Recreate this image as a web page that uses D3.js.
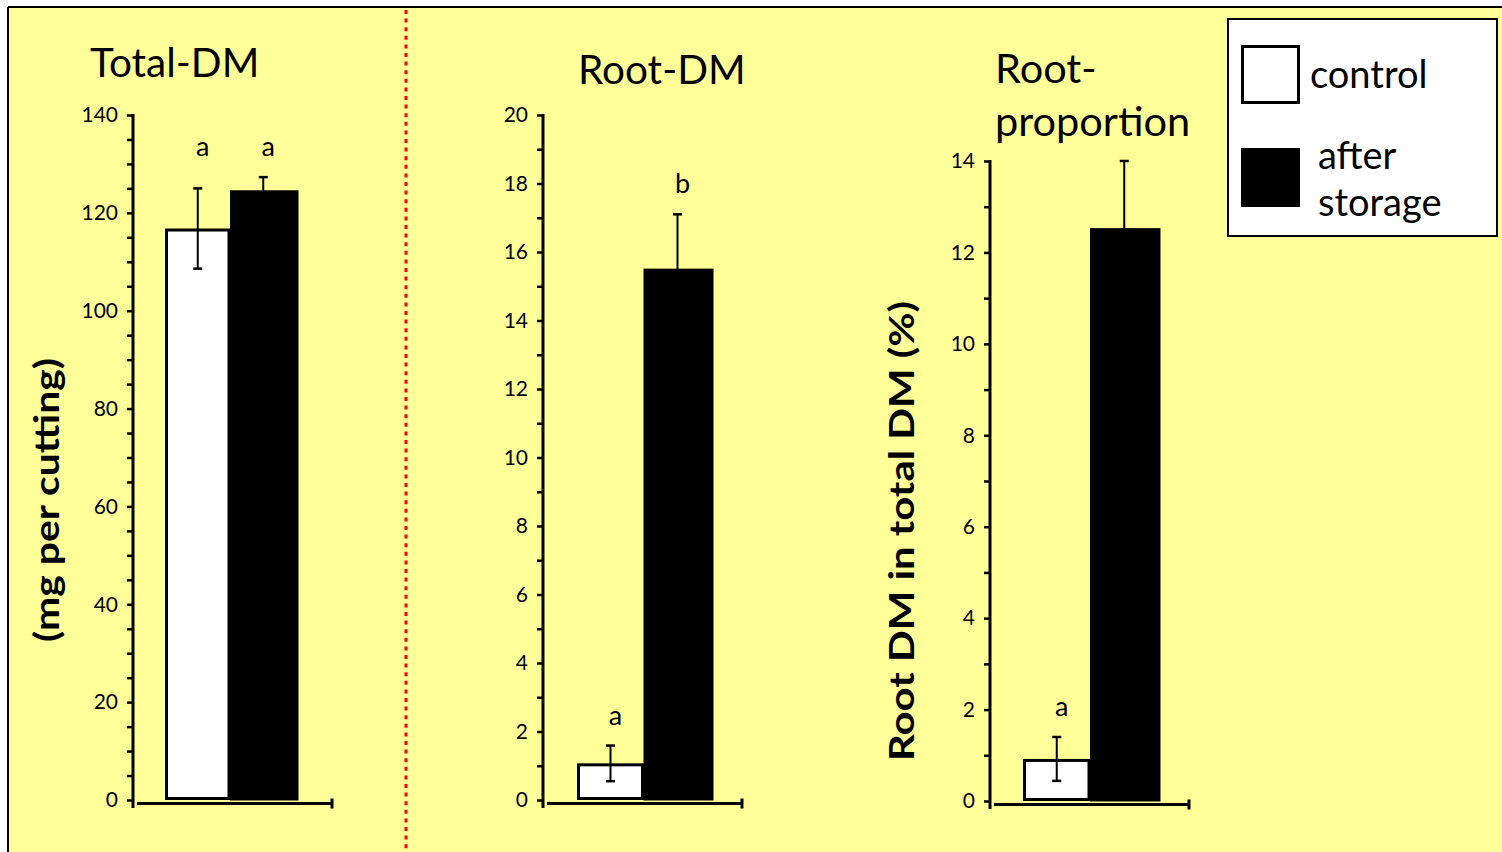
<!DOCTYPE html>
<html>
<head>
<meta charset="utf-8">
<script src="https://cdn.jsdelivr.net/npm/d3@7"></script>
<style>
  html, body { margin: 0; padding: 0; background: #ffffff; }
  svg { display: block; }
  text { font-family: Lato, "Open Sans", sans-serif; fill: #000; }
</style>
</head>
<body>
<svg id="chart" width="1502" height="852"></svg>
<script>
// Treatments
const groups = ["control", "after storage"];

// Total dry matter (mg per cutting)
const totalDM = [116.8, 124.5];
const totalDMErr = [8.2, 2.8];
const totalDMLetters = ["a", "a"];
const totalDMTicks = [0, 20, 40, 60, 80, 100, 120, 140];

// Root dry matter (mg per cutting)
const rootDM = [1.07, 15.5];
const rootDMErr = [0.52, 1.6];
const rootDMLetters = ["a", "b"];
const rootDMTicks = [0, 2, 4, 6, 8, 10, 12, 14, 16, 18, 20];

// Root proportion of total dry matter (%)
const rootProp = [0.92, 12.52];
const rootPropErr = [0.48, 1.48];
const rootPropLetters = ["a", ""];
const rootPropTicks = [0, 2, 4, 6, 8, 10, 12, 14];

const fills = ["#ffffff", "#000000"];

const svg = d3.select("#chart");

// page background and frame
svg.append("rect").attr("x", 8).attr("y", 7).attr("width", 1494).attr("height", 845)
  .attr("fill", "#ffff99");
svg.append("line").attr("x1", 8).attr("x2", 1502).attr("y1", 7).attr("y2", 7)
  .attr("stroke", "#000").attr("stroke-width", 2);
svg.append("line").attr("x1", 8).attr("x2", 8).attr("y1", 7).attr("y2", 852)
  .attr("stroke", "#000").attr("stroke-width", 2);

// dotted separator between the total and root panels
svg.append("line").attr("x1", 406).attr("x2", 406).attr("y1", 10).attr("y2", 852)
  .attr("stroke", "#ff0000").attr("stroke-width", 3).attr("stroke-dasharray", "4,4.6");

function drawPanel(cfg) {
  const g = svg.append("g");
  const y = d3.scaleLinear().domain([0, cfg.max]).range([cfg.y0, cfg.yTop]);
  const x = d3.scaleBand().domain(groups)
    .range([cfg.axisX + cfg.barStart, cfg.axisX + cfg.barEnd]).padding(0);

  // y axis: labelled major ticks plus unlabelled minor ticks
  const minor = d3.range(0, cfg.max + 1e-9, cfg.minorStep);
  const axis = d3.axisLeft(y).tickValues(minor).tickSize(6).tickPadding(9)
    .tickFormat(d => cfg.ticks.includes(Math.round(d * 1000) / 1000) ? d3.format("d")(d) : "");
  const ax = g.append("g").attr("transform", `translate(${cfg.axisX},0)`).call(axis);
  ax.select(".domain").remove();
  ax.selectAll(".tick line").attr("stroke", "#000").attr("stroke-width", 2.5);
  ax.selectAll(".tick text").attr("font-size", 21).attr("font-family", "Lato, sans-serif");
  g.append("line").attr("x1", cfg.axisX).attr("x2", cfg.axisX)
    .attr("y1", cfg.yTop - 1).attr("y2", cfg.y0 + 8)
    .attr("stroke", "#000").attr("stroke-width", 3);

  // bars
  const vals = cfg.values;
  g.selectAll("rect.bar").data(groups).join("rect").attr("class", "bar")
    .attr("x", (d, i) => x(d) + (i === 0 ? 1.5 : 0))
    .attr("width", (d, i) => x.bandwidth() - (i === 0 ? 3 : 0) + (i === 1 ? 2 : 0))
    .attr("y", (d, i) => y(vals[i]) + (i === 0 ? 1.5 : 0))
    .attr("height", (d, i) => y(0) - y(vals[i]) - (i === 0 ? 3 : 0))
    .attr("fill", (d, i) => fills[i])
    .attr("stroke", "#000").attr("stroke-width", (d, i) => i === 0 ? 3 : 1);

  // error bars
  groups.forEach((d, i) => {
    const cx = x(d) + x.bandwidth() / 2;
    const hi = y(vals[i] + cfg.errs[i]);
    const lo = y(vals[i] - cfg.errs[i]);
    g.append("line").attr("x1", cx).attr("x2", cx).attr("y1", hi).attr("y2", lo)
      .attr("stroke", "#000").attr("stroke-width", 2);
    [hi, lo].forEach(v => g.append("line").attr("x1", cx - 4.5).attr("x2", cx + 4.5)
      .attr("y1", v).attr("y2", v).attr("stroke", "#000").attr("stroke-width", 2.5));
  });

  // significance letters, set slightly right of each bar centre
  const tops = groups.map((d, i) => y(vals[i] + cfg.errs[i]));
  groups.forEach((d, i) => {
    if (!cfg.letters[i]) return;
    const base = (cfg.alignLetters ? d3.min(tops) : tops[i]) - 21;
    g.append("text").attr("x", x(d) + x.bandwidth() / 2 + 5).attr("y", base)
      .attr("text-anchor", "middle").attr("font-size", 27).text(cfg.letters[i]);
  });

  // x axis baseline with end tick
  const xa = cfg.y0 + 3.5;
  g.append("line").attr("x1", cfg.axisX + 4).attr("x2", cfg.axisX + 200)
    .attr("y1", xa).attr("y2", xa).attr("stroke", "#000").attr("stroke-width", 3);
  g.append("line").attr("x1", cfg.axisX + 199).attr("x2", cfg.axisX + 199)
    .attr("y1", xa - 5).attr("y2", xa + 5).attr("stroke", "#000").attr("stroke-width", 3);
}

drawPanel({ axisX: 133, y0: 800, yTop: 115, max: 140, minorStep: 5, ticks: totalDMTicks,
  barStart: 32, barEnd: 163,
  values: totalDM, errs: totalDMErr, letters: totalDMLetters, alignLetters: true });
drawPanel({ axisX: 543, y0: 800, yTop: 115, max: 20, minorStep: 1, ticks: rootDMTicks,
  barStart: 34, barEnd: 168,
  values: rootDM, errs: rootDMErr, letters: rootDMLetters });
drawPanel({ axisX: 990, y0: 801, yTop: 161, max: 14, minorStep: 1, ticks: rootPropTicks,
  barStart: 33, barEnd: 168,
  values: rootProp, errs: rootPropErr, letters: rootPropLetters });

// panel titles
svg.append("text").attr("x", 90).attr("y", 77).attr("font-size", 40.5).text("Total-DM");
svg.append("text").attr("x", 578).attr("y", 84).attr("font-size", 40.5).text("Root-DM");
svg.append("text").attr("x", 995).attr("y", 83).attr("font-size", 41.5).text("Root-");
svg.append("text").attr("x", 995).attr("y", 136).attr("font-size", 41.5).text("proportion");

// y axis titles
svg.append("text").attr("transform", "translate(59,500) rotate(-90)")
  .attr("text-anchor", "middle").attr("font-size", 34).attr("font-weight", "bold")
  .attr("textLength", 284).attr("lengthAdjust", "spacingAndGlyphs")
  .text("(mg per cutting)");
svg.append("text").attr("transform", "translate(914,531) rotate(-90)")
  .attr("text-anchor", "middle").attr("font-size", 34).attr("font-weight", "bold")
  .attr("textLength", 460).attr("lengthAdjust", "spacingAndGlyphs")
  .text("Root DM in total DM (%)");

// legend
const lg = svg.append("g");
lg.append("rect").attr("x", 1228).attr("y", 19).attr("width", 269).attr("height", 217)
  .attr("fill", "#fff").attr("stroke", "#000").attr("stroke-width", 2);
lg.append("rect").attr("x", 1242.5).attr("y", 46.5).attr("width", 56).attr("height", 56)
  .attr("fill", fills[0]).attr("stroke", "#000").attr("stroke-width", 3);
lg.append("rect").attr("x", 1241).attr("y", 148).attr("width", 59).attr("height", 59)
  .attr("fill", fills[1]);
lg.append("text").attr("x", 1310).attr("y", 88).attr("font-size", 38).text(groups[0]);
lg.append("text").attr("x", 1318).attr("y", 169).attr("font-size", 38).text("after");
lg.append("text").attr("x", 1318).attr("y", 216).attr("font-size", 38).text("storage");
</script>
</body>
</html>
